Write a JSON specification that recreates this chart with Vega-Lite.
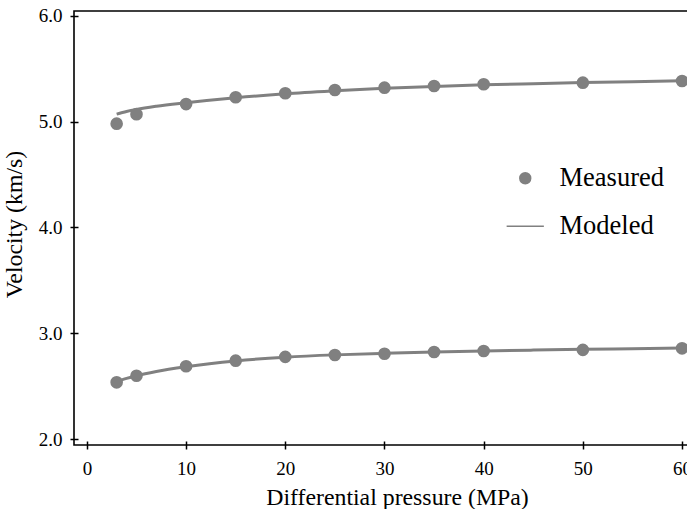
{
  "$schema": "https://vega.github.io/schema/vega-lite/v6.json",
  "autosize": {"type": "none"},
  "padding": {"left": 74, "top": 11, "right": 0, "bottom": 64},
  "width": 614,
  "height": 434,
  "background": "white",
  "datasets": {
    "measured": [
      {"type": "Measured", "wave": "P", "p": 3, "v": 4.98},
      {"type": "Measured", "wave": "P", "p": 5, "v": 5.07},
      {"type": "Measured", "wave": "P", "p": 10, "v": 5.165},
      {"type": "Measured", "wave": "P", "p": 15, "v": 5.23},
      {"type": "Measured", "wave": "P", "p": 20, "v": 5.267},
      {"type": "Measured", "wave": "P", "p": 25, "v": 5.298},
      {"type": "Measured", "wave": "P", "p": 30, "v": 5.32},
      {"type": "Measured", "wave": "P", "p": 35, "v": 5.336},
      {"type": "Measured", "wave": "P", "p": 40, "v": 5.352},
      {"type": "Measured", "wave": "P", "p": 50, "v": 5.367},
      {"type": "Measured", "wave": "P", "p": 60, "v": 5.383},
      {"type": "Measured", "wave": "S", "p": 3, "v": 2.538},
      {"type": "Measured", "wave": "S", "p": 5, "v": 2.6},
      {"type": "Measured", "wave": "S", "p": 10, "v": 2.69},
      {"type": "Measured", "wave": "S", "p": 15, "v": 2.742},
      {"type": "Measured", "wave": "S", "p": 20, "v": 2.778},
      {"type": "Measured", "wave": "S", "p": 25, "v": 2.796},
      {"type": "Measured", "wave": "S", "p": 30, "v": 2.808},
      {"type": "Measured", "wave": "S", "p": 35, "v": 2.824},
      {"type": "Measured", "wave": "S", "p": 40, "v": 2.834},
      {"type": "Measured", "wave": "S", "p": 50, "v": 2.844},
      {"type": "Measured", "wave": "S", "p": 60, "v": 2.859}
    ],
    "modeled": [
      {"wave": "P", "p": 3, "v": 5.07},
      {"wave": "P", "p": 4, "v": 5.095},
      {"wave": "P", "p": 5, "v": 5.115},
      {"wave": "P", "p": 7, "v": 5.145},
      {"wave": "P", "p": 10, "v": 5.178},
      {"wave": "P", "p": 15, "v": 5.225},
      {"wave": "P", "p": 20, "v": 5.262},
      {"wave": "P", "p": 25, "v": 5.29},
      {"wave": "P", "p": 30, "v": 5.314},
      {"wave": "P", "p": 35, "v": 5.332},
      {"wave": "P", "p": 40, "v": 5.347},
      {"wave": "P", "p": 45, "v": 5.358},
      {"wave": "P", "p": 50, "v": 5.368},
      {"wave": "P", "p": 55, "v": 5.377},
      {"wave": "P", "p": 60, "v": 5.385},
      {"wave": "S", "p": 3, "v": 2.545},
      {"wave": "S", "p": 4, "v": 2.575},
      {"wave": "S", "p": 5, "v": 2.6},
      {"wave": "S", "p": 7, "v": 2.64},
      {"wave": "S", "p": 10, "v": 2.685},
      {"wave": "S", "p": 15, "v": 2.74},
      {"wave": "S", "p": 20, "v": 2.775},
      {"wave": "S", "p": 25, "v": 2.797},
      {"wave": "S", "p": 30, "v": 2.812},
      {"wave": "S", "p": 35, "v": 2.824},
      {"wave": "S", "p": 40, "v": 2.834},
      {"wave": "S", "p": 45, "v": 2.842},
      {"wave": "S", "p": 50, "v": 2.849},
      {"wave": "S", "p": 55, "v": 2.855},
      {"wave": "S", "p": 60, "v": 2.861}
    ]
  },
  "layer": [
    {
      "data": {"name": "modeled"},
      "mark": {"type": "line", "color": "#808080", "strokeWidth": 3, "interpolate": "monotone"},
      "encoding": {
        "x": {"field": "p", "type": "quantitative", "scale": {"domain": [-1.3, 60.6], "nice": false, "zero": false},
              "axis": {"title": "Differential pressure (MPa)", "values": [0, 10, 20, 30, 40, 50, 60], "titleX": 323,
                       "labelFont": "Liberation Serif", "titleFont": "Liberation Serif"}},
        "y": {"field": "v", "type": "quantitative", "scale": {"domain": [1.946, 6.044], "nice": false, "zero": false},
              "axis": {"title": "Velocity (km/s)", "values": [2, 3, 4, 5, 6], "format": ".1f", "titleY": 213,
                       "labelFont": "Liberation Serif", "titleFont": "Liberation Serif"}},
        "detail": {"field": "wave"}
      }
    },
    {
      "data": {"name": "measured"},
      "mark": {"type": "point", "filled": true, "color": "#808080", "opacity": 1, "size": 160},
      "encoding": {
        "x": {"field": "p", "type": "quantitative"},
        "y": {"field": "v", "type": "quantitative"},
        "shape": {"field": "type", "type": "nominal",
          "scale": {"domain": ["Measured", "Modeled"], "range": ["circle", "M-3,-0.12H3V0.12H-3Z"]},
          "legend": {
            "title": null, "orient": "none", "legendX": 438, "legendY": 154,
            "symbolSize": 154, "labelFontSize": 26.5, "labelFont": "Liberation Serif", "labelColor": "black",
            "labelOffset": 21, "rowPadding": 21, "padding": 0,
            "symbolFillColor": "#808080", "symbolStrokeColor": "#808080",
            "encode": {"symbols": {"update": {"fill": {"value": "#808080"}, "stroke": {"value": "#808080"}, "strokeWidth": {"value": 0}, "opacity": {"value": 1}}}}
          }
        }
      }
    }
  ],
  "config": {
    "font": "Liberation Serif",
    "view": {"stroke": "black", "strokeWidth": 1.6},
    "axis": {
      "domain": false, "grid": false, "offset": -4,
      "tickSize": 8, "tickWidth": 1.5, "tickColor": "black",
      "labelFont": "Liberation Serif", "labelFontSize": 19, "labelColor": "black",
      "titleFont": "Liberation Serif", "titleFontSize": 23.8, "titleFontWeight": "normal", "titleColor": "black"
    },
    "axisX": {"labelPadding": 10, "titlePadding": 7},
    "axisY": {"labelPadding": 8, "titlePadding": 12}
  }
}
